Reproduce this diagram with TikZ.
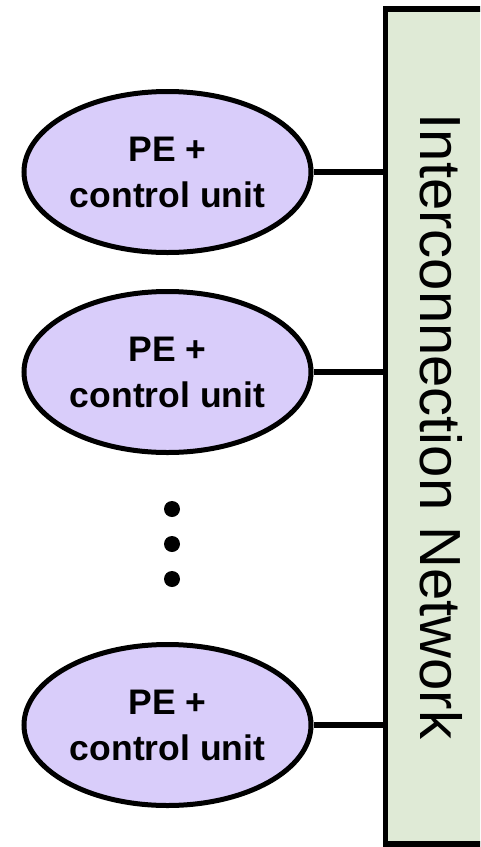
\documentclass[tikz,border=0pt]{standalone}
\usepackage{fontspec}
\setmainfont{Liberation Sans}
\usetikzlibrary{shapes.geometric}

\definecolor{pefill}{RGB}{217,205,250}
\definecolor{netfill}{RGB}{223,234,214}

\begin{document}
\begin{tikzpicture}[x=1pt, y=-1pt,
  pe/.style={ellipse, draw, line width=5pt, fill=pefill,
    minimum width=287pt, minimum height=161pt, inner sep=0pt,
    align=center, font=\bfseries\fontsize{35.5}{46}\selectfont},
  netbox/.style={rectangle, draw, line width=5.5pt, fill=netfill,
    minimum width=835pt, minimum height=112pt, inner sep=0pt,
    font=\fontsize{58}{60}\selectfont},
  link/.style={line width=5.5pt}]
  \clip (0,0) rectangle (480,847);

  \node[netbox, rotate=-90] (net) at (441.5,426.5) {Interconnection Network};

  \node[pe] (pe1) at (167.5,172) {PE +\\control unit};
  \node[pe] (pe2) at (167.5,372) {PE +\\control unit};
  \node[pe] (pe3) at (167.5,725) {PE +\\control unit};

  \foreach \y in {509,544,579}
    \fill (172,\y) circle (8);

  \draw[link] (pe1.east) -- (pe1.east -| net.south);
  \draw[link] (pe2.east) -- (pe2.east -| net.south);
  \draw[link] (pe3.east) -- (pe3.east -| net.south);
\end{tikzpicture}
\end{document}
